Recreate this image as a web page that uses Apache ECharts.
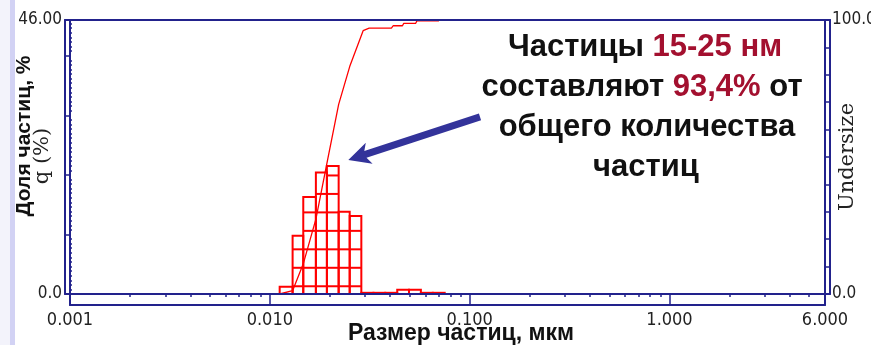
<!DOCTYPE html>
<html>
<head>
<meta charset="utf-8">
<script src="https://cdn.jsdelivr.net/npm/echarts@6/dist/echarts.min.js"></script>
<style>
  html, body { margin: 0; padding: 0; background: #ffffff; }
  #wrap { position: relative; width: 871px; height: 345px; overflow: hidden; background: #ffffff; }
  #strip1 { position: absolute; left: 0; top: 0; width: 10px; height: 345px; background: #f3f3fb; }
  #strip2 { position: absolute; left: 10px; top: 0; width: 5px; height: 345px; background: #d2d2f4; }
  #chart { position: absolute; left: 0; top: 0; width: 871px; height: 345px; }
</style>
</head>
<body>
<div id="wrap">
  <div id="strip1"></div>
  <div id="strip2"></div>
  <div id="chart"></div>
</div>
<script>
// ---- data (particle size in µm) ----
const binEdges  = [0.0112, 0.0130, 0.0147, 0.0170, 0.0193, 0.0221, 0.0251, 0.0287,
                   0.0330, 0.0378, 0.0434, 0.0497, 0.0570, 0.0654, 0.0750];
const binValues = [1.2, 9.8, 16.3, 20.4, 21.5, 13.8, 13.1,
                   0.2, 0.2, 0.2, 0.7, 0.7, 0.2, 0.2];           // q (%)
const cumSize   = [0.0112, 0.0130, 0.0147, 0.0170, 0.0193, 0.0221, 0.0251, 0.0293,
                   0.0314, 0.0406, 0.0414, 0.0461, 0.0468, 0.0537, 0.0545, 0.0702];
const cumValues = [0, 1.2, 11.0, 27.3, 47.7, 69.2, 83.0, 96.1,
                   97.0, 97.0, 97.9, 97.9, 98.8, 98.8, 99.7, 99.7]; // Undersize (%)
const xLabelValues = [0.001, 0.01, 0.1, 1, 6];
const leftLabelValues = [0, 46];
const rightLabelValues = [0, 100];

// ---- styles ----
const NAVY = '#22228c';
const RED = '#ff0000';
const NUM_FONT = "'Liberation Sans Narrow', 'DejaVu Sans Condensed', 'Arial Narrow', sans-serif";
const BOLD_FONT = "'Liberation Sans', Arial, sans-serif";
const SERIF_FONT = "'DejaVu Serif', 'Liberation Serif', serif";
const DARK_RED = '#a3102f';
const ANNOT_SIZE = 31;

// minor tick positions on the log axis (decoration only)
const minorLogTicks = [];
[0.001, 0.01, 0.1, 1].forEach(d => {
  for (let k = 2; k <= 9; k++) {
    const v = d * k;
    if (v < 6) minorLogTicks.push(Math.log10(v));
  }
});

const binData = binValues.map((v, i) => [binEdges[i], binEdges[i + 1], v]);
const cumData = cumSize.map((s, i) => [s, cumValues[i]]);

const cellOffset = 1.3, cellStep = 3.1;

const chart = echarts.init(document.getElementById('chart'), null, { renderer: 'canvas' });

const frameLine = { show: true, onZero: false, lineStyle: { color: NAVY, width: 2 } };
const noLine = { show: false, onZero: false };
const off = { show: false };

chart.setOption({
  animation: false,
  backgroundColor: 'transparent',
  grid: [
    { left: 70, right: 46, top: 20, bottom: 51, containLabel: false, outerBoundsMode: 'none' },   // plot area
    { left: 65, right: 41, top: 20, bottom: 51, containLabel: false, outerBoundsMode: 'none' },   // outer frame
    { left: 70, right: 46, top: 20, bottom: 40, containLabel: false, outerBoundsMode: 'none' }    // lower frame
  ],
  xAxis: [
    {
      type: 'log', logBase: 10, min: 0.001, max: 6, gridIndex: 0, position: 'bottom',
      axisLine: noLine,
      axisTick: { show: true, length: 11, lineStyle: { color: NAVY, width: 1.5 } },
      axisLabel: {
        show: true, margin: 17, color: '#222', fontFamily: NUM_FONT, fontSize: 18,
        formatter: v => Number(v).toFixed(3),
        showMinLabel: true, showMaxLabel: true
      },
      splitLine: off, minorTick: off, minorSplitLine: off
    },
    {
      type: 'value', min: -3, max: Math.log10(6), gridIndex: 0, position: 'bottom',
      axisLine: noLine,
      axisTick: { show: true, length: 3, customValues: minorLogTicks, lineStyle: { color: NAVY, width: 1.5 } },
      axisLabel: off, splitLine: off
    },
    { type: 'value', gridIndex: 1, position: 'bottom', axisLine: frameLine, axisTick: off, axisLabel: off, splitLine: off, z: 5 },
    { type: 'value', gridIndex: 1, position: 'top', axisLine: frameLine, axisTick: off, axisLabel: off, splitLine: off, z: 5 },
    { type: 'value', gridIndex: 2, position: 'bottom', axisLine: frameLine, axisTick: off, axisLabel: off, splitLine: off }
  ],
  yAxis: [
    {
      type: 'value', min: 0, max: 46, interval: 10, gridIndex: 0, position: 'left',
      axisLine: noLine,
      axisTick: { show: true, length: 5, lineStyle: { color: NAVY, width: 1.5 } },
      axisLabel: {
        show: true, margin: 8, color: '#222', fontFamily: NUM_FONT, fontSize: 17,
        customValues: leftLabelValues,
        formatter: v => (v === 0 ? '0.0' : Number(v).toFixed(2))
      },
      splitLine: off
    },
    {
      type: 'value', min: 0, max: 46, interval: 10, gridIndex: 0, position: 'left',
      axisLine: noLine,
      axisTick: { show: false, inside: true },
      minorTick: { show: true, splitNumber: 13, length: 2, lineStyle: { color: NAVY, width: 1.5 } },
      axisLabel: off, splitLine: off
    },
    {
      type: 'value', min: 0, max: 100, interval: 10, gridIndex: 0, position: 'right',
      axisLine: noLine,
      axisTick: { show: true, inside: false, length: 5, lineStyle: { color: NAVY, width: 1.5 } },
      axisLabel: {
        show: true, margin: 7, color: '#222', fontFamily: NUM_FONT, fontSize: 17,
        customValues: rightLabelValues,
        formatter: v => Number(v).toFixed(1)
      },
      splitLine: off
    },
    { type: 'value', gridIndex: 1, position: 'left', axisLine: frameLine, axisTick: off, axisLabel: off, splitLine: off },
    { type: 'value', gridIndex: 1, position: 'right', axisLine: frameLine, axisTick: off, axisLabel: off, splitLine: off },
    { type: 'value', gridIndex: 2, position: 'left', axisLine: frameLine, axisTick: off, axisLabel: off, splitLine: off },
    { type: 'value', gridIndex: 2, position: 'right', axisLine: frameLine, axisTick: off, axisLabel: off, splitLine: off }
  ],
  series: [
    {
      type: 'custom', xAxisIndex: 0, yAxisIndex: 0, z: 2,
      encode: { x: [0, 1], y: 2 },
      data: binData,
      renderItem: function (params, api) {
        const x0 = api.value(0), x1 = api.value(1), h = api.value(2);
        const p0 = api.coord([x0, 0]);
        const p1 = api.coord([x1, h]);
        const children = [{
          type: 'rect',
          shape: { x: p0[0], y: p1[1], width: p1[0] - p0[0], height: p0[1] - p1[1] },
          style: { fill: 'none', stroke: RED, lineWidth: 2 }
        }];
        for (let v = cellOffset; v < h - 0.6; v += cellStep) {
          const y = api.coord([x0, v])[1];
          children.push({
            type: 'line',
            shape: { x1: p0[0], y1: y, x2: p1[0], y2: y },
            style: { stroke: RED, lineWidth: 2 }
          });
        }
        return { type: 'group', children: children };
      }
    },
    {
      type: 'line', xAxisIndex: 0, yAxisIndex: 2, z: 3,
      data: cumData, showSymbol: false, symbol: 'none',
      lineStyle: { color: RED, width: 1.3 }
    }
  ],
  graphic: [
    {
      type: 'text', z: 10,
      style: {
        x: 645, y: 47, align: 'center', verticalAlign: 'middle',
        text: '{k|Частицы }{r|15-25 нм}',
        rich: {
          k: { fontFamily: BOLD_FONT, fontWeight: 'bold', fontSize: ANNOT_SIZE, fill: '#111' },
          r: { fontFamily: BOLD_FONT, fontWeight: 'bold', fontSize: ANNOT_SIZE, fill: DARK_RED }
        }
      }
    },
    {
      type: 'text', z: 10,
      style: {
        x: 642, y: 87, align: 'center', verticalAlign: 'middle',
        text: '{k|составляют }{r|93,4%}{k| от}',
        rich: {
          k: { fontFamily: BOLD_FONT, fontWeight: 'bold', fontSize: ANNOT_SIZE, fill: '#111' },
          r: { fontFamily: BOLD_FONT, fontWeight: 'bold', fontSize: ANNOT_SIZE, fill: DARK_RED }
        }
      }
    },
    {
      type: 'text', z: 10,
      style: {
        x: 647, y: 127, align: 'center', verticalAlign: 'middle',
        text: 'общего количества',
        fontFamily: BOLD_FONT, fontWeight: 'bold', fontSize: ANNOT_SIZE, fill: '#111'
      }
    },
    {
      type: 'text', z: 10,
      style: {
        x: 646, y: 167, align: 'center', verticalAlign: 'middle',
        text: 'частиц',
        fontFamily: BOLD_FONT, fontWeight: 'bold', fontSize: ANNOT_SIZE, fill: '#111'
      }
    },
    {
      type: 'polygon', z: 10,
      shape: {
        points: [[348.3, 160], [365.8, 142.7], [364.3, 151.1], [478.9, 113.6],
                 [481.1, 120.2], [366.5, 157.7], [372.6, 163.7]]
      },
      style: { fill: '#33339a' }
    },
    {
      type: 'text', z: 10, x: 24, y: 136, rotation: Math.PI / 2,
      style: {
        x: 0, y: 0, align: 'center', verticalAlign: 'middle',
        text: 'Доля частиц, %',
        fontFamily: BOLD_FONT, fontWeight: 'bold', fontSize: 21, fill: '#111'
      }
    },
    {
      type: 'text', z: 10, x: 43, y: 156, rotation: Math.PI / 2,
      style: {
        x: 0, y: 0, align: 'center', verticalAlign: 'middle',
        text: 'q (%)',
        fontFamily: SERIF_FONT, fontSize: 21, fill: '#222'
      }
    },
    {
      type: 'text', z: 10, x: 848, y: 157, rotation: Math.PI / 2,
      style: {
        x: 0, y: 0, align: 'center', verticalAlign: 'middle',
        text: 'Undersize',
        fontFamily: SERIF_FONT, fontSize: 21, fill: '#222'
      }
    },
    {
      type: 'text', z: 10,
      style: {
        x: 461, y: 334, align: 'center', verticalAlign: 'middle',
        text: 'Размер частиц, мкм',
        fontFamily: BOLD_FONT, fontWeight: 'bold', fontSize: 23, fill: '#111'
      }
    }
  ]
});
</script>
</body>
</html>
